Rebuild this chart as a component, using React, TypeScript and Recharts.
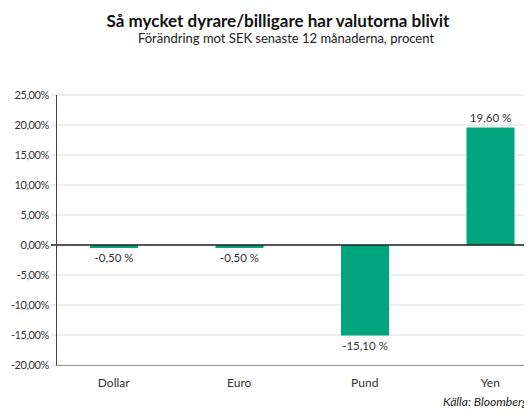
import React from 'react';
import { BarChart, Bar, XAxis, YAxis, CartesianGrid, ReferenceLine, LabelList } from 'recharts';

const categories = ['Dollar', 'Euro', 'Pund', 'Yen'];
const changes = [-0.5, -0.5, -15.1, 19.6];
const yTicks = [-20, -15, -10, -5, 0, 5, 10, 15, 20, 25];

const data = categories.map((name, i) => ({ name, value: changes[i] }));

const FONT = 'Lato, "Open Sans", sans-serif';
const GREEN = '#00A57D';

const fmtTick = (v: number) => `${v.toFixed(2).replace('.', ',')}%`;
const fmtLabel = (v: number) => `${v.toFixed(2).replace('.', ',')} %`;

const YTick = (props: any) => {
  const { x, y, payload } = props;
  return (
    <text x={x} y={y} dy={4} textAnchor="end" fontSize={11} fill="#333" letterSpacing={-0.4} fontFamily={FONT}>
      {fmtTick(payload.value)}
    </text>
  );
};

const XTick = (props: any) => {
  const { x, y, payload } = props;
  return (
    <text x={x} y={y} dy={22} textAnchor="middle" fontSize={12} fill="#333" fontFamily={FONT}>
      {payload.value}
    </text>
  );
};

const ValueLabel = (props: any) => {
  const { x, y, width, height, value } = props;
  const top = Math.min(y, y + height);
  const bottom = Math.max(y, y + height);
  const neg = value < 0;
  return (
    <text
      x={x + width / 2}
      y={neg ? bottom + 14 : top - 5}
      textAnchor="middle"
      fontSize={11.5}
      fill="#333"
      fontFamily={FONT}
    >
      {fmtLabel(value)}
    </text>
  );
};

export default function App() {
  return (
    <div style={{ position: 'relative', width: 524, height: 401, fontFamily: FONT }}>
      <style>{'html, body { overflow: hidden; }'}</style>
      <div style={{ position: 'absolute', left: 0, width: 540, top: 2, textAlign: 'center', fontSize: 17, fontWeight: 700, color: '#111', whiteSpace: 'nowrap' }}>
        Så mycket dyrare/billigare har valutorna blivit
      </div>
      <div style={{ position: 'absolute', left: 0, width: 556, top: 22, textAlign: 'center', fontSize: 13, color: '#222', whiteSpace: 'nowrap' }}>
        Förändring mot SEK senaste 12 månaderna, procent
      </div>
      <div style={{ position: 'absolute', left: 0, top: 0 }}>
        <BarChart width={552} height={387} data={data} margin={{ top: 87, right: 7, bottom: 0, left: 0 }}>
          <CartesianGrid vertical={false} stroke="#dcdcdc" />
          <XAxis dataKey="name" axisLine={false} tickLine={false} tickSize={0} tickMargin={0} height={30} tick={<XTick />} interval={0} />
          <YAxis
            domain={[-20, 25]}
            ticks={yTicks}
            width={43}
            axisLine={false}
            tickLine={false}
            tickSize={0}
            tickMargin={2}
            tick={<YTick />}
            interval={0}
          />
          <ReferenceLine y={0} stroke="#222" strokeWidth={1.5} />
          <Bar dataKey="value" fill={GREEN} barSize={48} isAnimationActive={false}>
            <LabelList dataKey="value" content={<ValueLabel />} />
          </Bar>
        </BarChart>
      </div>
      <div style={{ position: 'absolute', left: 48, top: 87, width: 500, height: 270, borderLeft: '1px solid #444', borderBottom: '1.5px solid #999' }} />
      <div style={{ position: 'absolute', left: 435, top: 386, fontSize: 12.1, fontStyle: 'italic', color: '#222', whiteSpace: 'nowrap' }}>
        Källa: Bloomberg
      </div>
    </div>
  );
}
